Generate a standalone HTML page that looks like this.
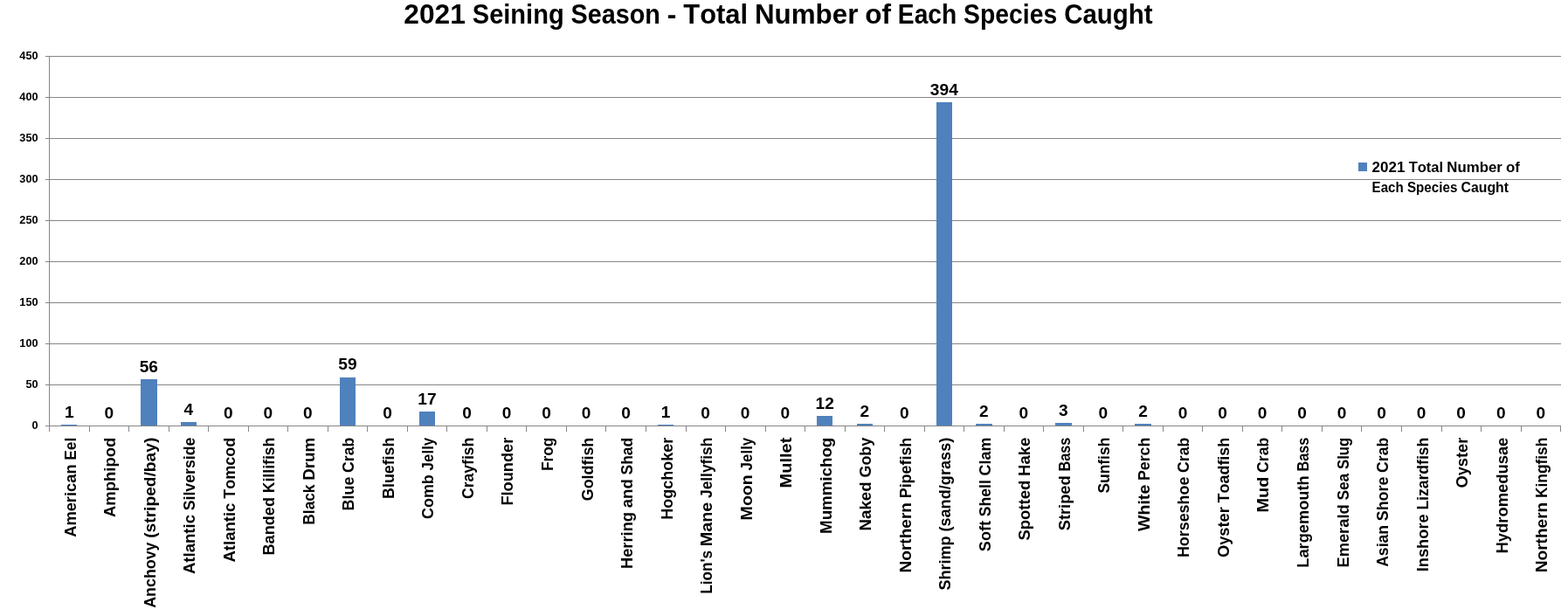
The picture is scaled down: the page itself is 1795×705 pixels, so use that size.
<!DOCTYPE html>
<html lang="en">
<head>
<meta charset="utf-8">
<title>2021 Seining Season - Total Number of Each Species Caught</title>
<style>
html,body{margin:0;padding:0;background:#fff;}
body{width:1795px;height:705px;overflow:hidden;}
svg{display:block;}
text{font-family:"Liberation Sans", sans-serif;font-weight:bold;fill:#000;font-variant-ligatures:none;font-kerning:none;}
.grid line{stroke:#868686;stroke-width:1;shape-rendering:crispEdges;}
.bars rect{fill:#4f81bd;shape-rendering:crispEdges;}
</style>
</head>
<body>
<svg width="1795" height="705" viewBox="0 0 1795 705" role="img" aria-label="Bar chart: 2021 Seining Season - Total Number of Each Species Caught">
<rect x="0" y="0" width="1795" height="705" fill="#fff"/>
<g class="grid">
<line x1="52" y1="487.5" x2="1787" y2="487.5"/>
<line x1="52" y1="440.5" x2="1787" y2="440.5"/>
<line x1="52" y1="393.5" x2="1787" y2="393.5"/>
<line x1="52" y1="346.5" x2="1787" y2="346.5"/>
<line x1="52" y1="299.5" x2="1787" y2="299.5"/>
<line x1="52" y1="252.5" x2="1787" y2="252.5"/>
<line x1="52" y1="205.5" x2="1787" y2="205.5"/>
<line x1="52" y1="158.5" x2="1787" y2="158.5"/>
<line x1="52" y1="111.5" x2="1787" y2="111.5"/>
<line x1="52" y1="64.5" x2="1787" y2="64.5"/>
<line x1="56.5" y1="64" x2="56.5" y2="494"/>
<line x1="102.5" y1="487" x2="102.5" y2="494"/>
<line x1="147.5" y1="487" x2="147.5" y2="494"/>
<line x1="193.5" y1="487" x2="193.5" y2="494"/>
<line x1="238.5" y1="487" x2="238.5" y2="494"/>
<line x1="284.5" y1="487" x2="284.5" y2="494"/>
<line x1="329.5" y1="487" x2="329.5" y2="494"/>
<line x1="375.5" y1="487" x2="375.5" y2="494"/>
<line x1="420.5" y1="487" x2="420.5" y2="494"/>
<line x1="466.5" y1="487" x2="466.5" y2="494"/>
<line x1="511.5" y1="487" x2="511.5" y2="494"/>
<line x1="557.5" y1="487" x2="557.5" y2="494"/>
<line x1="602.5" y1="487" x2="602.5" y2="494"/>
<line x1="648.5" y1="487" x2="648.5" y2="494"/>
<line x1="693.5" y1="487" x2="693.5" y2="494"/>
<line x1="739.5" y1="487" x2="739.5" y2="494"/>
<line x1="785.5" y1="487" x2="785.5" y2="494"/>
<line x1="830.5" y1="487" x2="830.5" y2="494"/>
<line x1="876.5" y1="487" x2="876.5" y2="494"/>
<line x1="921.5" y1="487" x2="921.5" y2="494"/>
<line x1="967.5" y1="487" x2="967.5" y2="494"/>
<line x1="1012.5" y1="487" x2="1012.5" y2="494"/>
<line x1="1058.5" y1="487" x2="1058.5" y2="494"/>
<line x1="1103.5" y1="487" x2="1103.5" y2="494"/>
<line x1="1149.5" y1="487" x2="1149.5" y2="494"/>
<line x1="1194.5" y1="487" x2="1194.5" y2="494"/>
<line x1="1240.5" y1="487" x2="1240.5" y2="494"/>
<line x1="1285.5" y1="487" x2="1285.5" y2="494"/>
<line x1="1331.5" y1="487" x2="1331.5" y2="494"/>
<line x1="1376.5" y1="487" x2="1376.5" y2="494"/>
<line x1="1422.5" y1="487" x2="1422.5" y2="494"/>
<line x1="1467.5" y1="487" x2="1467.5" y2="494"/>
<line x1="1513.5" y1="487" x2="1513.5" y2="494"/>
<line x1="1558.5" y1="487" x2="1558.5" y2="494"/>
<line x1="1604.5" y1="487" x2="1604.5" y2="494"/>
<line x1="1650.5" y1="487" x2="1650.5" y2="494"/>
<line x1="1695.5" y1="487" x2="1695.5" y2="494"/>
<line x1="1741.5" y1="487" x2="1741.5" y2="494"/>
<line x1="1786.5" y1="487" x2="1786.5" y2="494"/>
</g>
<g class="bars">
<rect x="70" y="486" width="18" height="1"/>
<rect x="161" y="434" width="19" height="53"/>
<rect x="207" y="483" width="18" height="4"/>
<rect x="389" y="432" width="18" height="55"/>
<rect x="480" y="471" width="18" height="16"/>
<rect x="753" y="486" width="18" height="1"/>
<rect x="935" y="476" width="18" height="11"/>
<rect x="981" y="485" width="18" height="2"/>
<rect x="1072" y="117" width="18" height="370"/>
<rect x="1117" y="485" width="19" height="2"/>
<rect x="1208" y="484" width="19" height="3"/>
<rect x="1299" y="485" width="19" height="2"/>
</g>
<g class="ylab">
<text font-size="12.9" x="36.5" y="491" textLength="7.1" lengthAdjust="spacingAndGlyphs">0</text>
<text font-size="12.9" x="29.41" y="444" textLength="14.19" lengthAdjust="spacingAndGlyphs">50</text>
<text font-size="12.9" x="22.31" y="397" textLength="21.29" lengthAdjust="spacingAndGlyphs">100</text>
<text font-size="12.9" x="22.31" y="350" textLength="21.29" lengthAdjust="spacingAndGlyphs">150</text>
<text font-size="12.9" x="22.31" y="303" textLength="21.29" lengthAdjust="spacingAndGlyphs">200</text>
<text font-size="12.9" x="22.31" y="256" textLength="21.29" lengthAdjust="spacingAndGlyphs">250</text>
<text font-size="12.9" x="22.31" y="209" textLength="21.29" lengthAdjust="spacingAndGlyphs">300</text>
<text font-size="12.9" x="22.31" y="162" textLength="21.29" lengthAdjust="spacingAndGlyphs">350</text>
<text font-size="12.9" x="22.31" y="115" textLength="21.29" lengthAdjust="spacingAndGlyphs">400</text>
<text font-size="12.9" x="22.31" y="68" textLength="21.29" lengthAdjust="spacingAndGlyphs">450</text>
</g>
<g class="dlab">
<text font-size="17.6" x="73.94" y="478" textLength="10.64" lengthAdjust="spacingAndGlyphs">1</text>
<text font-size="17.6" x="119.47" y="479" textLength="10.64" lengthAdjust="spacingAndGlyphs">0</text>
<text font-size="17.6" x="159.67" y="426" textLength="21.29" lengthAdjust="spacingAndGlyphs">56</text>
<text font-size="17.6" x="210.52" y="475" textLength="10.64" lengthAdjust="spacingAndGlyphs">4</text>
<text font-size="17.6" x="256.05" y="479" textLength="10.64" lengthAdjust="spacingAndGlyphs">0</text>
<text font-size="17.6" x="301.57" y="479" textLength="10.64" lengthAdjust="spacingAndGlyphs">0</text>
<text font-size="17.6" x="347.1" y="479" textLength="10.64" lengthAdjust="spacingAndGlyphs">0</text>
<text font-size="17.6" x="387.31" y="423" textLength="21.29" lengthAdjust="spacingAndGlyphs">59</text>
<text font-size="17.6" x="438.15" y="479" textLength="10.64" lengthAdjust="spacingAndGlyphs">0</text>
<text font-size="17.6" x="478.36" y="463" textLength="21.29" lengthAdjust="spacingAndGlyphs">17</text>
<text font-size="17.6" x="529.21" y="479" textLength="10.64" lengthAdjust="spacingAndGlyphs">0</text>
<text font-size="17.6" x="574.73" y="479" textLength="10.64" lengthAdjust="spacingAndGlyphs">0</text>
<text font-size="17.6" x="620.26" y="479" textLength="10.64" lengthAdjust="spacingAndGlyphs">0</text>
<text font-size="17.6" x="665.79" y="479" textLength="10.64" lengthAdjust="spacingAndGlyphs">0</text>
<text font-size="17.6" x="711.31" y="479" textLength="10.64" lengthAdjust="spacingAndGlyphs">0</text>
<text font-size="17.6" x="756.84" y="478" textLength="10.64" lengthAdjust="spacingAndGlyphs">1</text>
<text font-size="17.6" x="802.37" y="479" textLength="10.64" lengthAdjust="spacingAndGlyphs">0</text>
<text font-size="17.6" x="847.89" y="479" textLength="10.64" lengthAdjust="spacingAndGlyphs">0</text>
<text font-size="17.6" x="893.42" y="479" textLength="10.64" lengthAdjust="spacingAndGlyphs">0</text>
<text font-size="17.6" x="933.62" y="468" textLength="21.29" lengthAdjust="spacingAndGlyphs">12</text>
<text font-size="17.6" x="984.47" y="477" textLength="10.64" lengthAdjust="spacingAndGlyphs">2</text>
<text font-size="17.6" x="1030" y="479" textLength="10.64" lengthAdjust="spacingAndGlyphs">0</text>
<text font-size="17.6" x="1064.88" y="109" textLength="31.93" lengthAdjust="spacingAndGlyphs">394</text>
<text font-size="17.6" x="1121.05" y="477" textLength="10.64" lengthAdjust="spacingAndGlyphs">2</text>
<text font-size="17.6" x="1166.58" y="479" textLength="10.64" lengthAdjust="spacingAndGlyphs">0</text>
<text font-size="17.6" x="1212.1" y="476" textLength="10.64" lengthAdjust="spacingAndGlyphs">3</text>
<text font-size="17.6" x="1257.63" y="479" textLength="10.64" lengthAdjust="spacingAndGlyphs">0</text>
<text font-size="17.6" x="1303.16" y="477" textLength="10.64" lengthAdjust="spacingAndGlyphs">2</text>
<text font-size="17.6" x="1348.68" y="479" textLength="10.64" lengthAdjust="spacingAndGlyphs">0</text>
<text font-size="17.6" x="1394.21" y="479" textLength="10.64" lengthAdjust="spacingAndGlyphs">0</text>
<text font-size="17.6" x="1439.74" y="479" textLength="10.64" lengthAdjust="spacingAndGlyphs">0</text>
<text font-size="17.6" x="1485.26" y="479" textLength="10.64" lengthAdjust="spacingAndGlyphs">0</text>
<text font-size="17.6" x="1530.79" y="479" textLength="10.64" lengthAdjust="spacingAndGlyphs">0</text>
<text font-size="17.6" x="1576.32" y="479" textLength="10.64" lengthAdjust="spacingAndGlyphs">0</text>
<text font-size="17.6" x="1621.84" y="479" textLength="10.64" lengthAdjust="spacingAndGlyphs">0</text>
<text font-size="17.6" x="1667.37" y="479" textLength="10.64" lengthAdjust="spacingAndGlyphs">0</text>
<text font-size="17.6" x="1712.9" y="479" textLength="10.64" lengthAdjust="spacingAndGlyphs">0</text>
<text font-size="17.6" x="1758.42" y="479" textLength="10.64" lengthAdjust="spacingAndGlyphs">0</text>
</g>
<g class="clab">
<text transform="translate(86.66 500.7) rotate(-90)" font-size="17.6" y="0"><tspan x="-114.15" textLength="83.43" lengthAdjust="spacingAndGlyphs">American</tspan> <tspan x="-25.97" textLength="25.97" lengthAdjust="spacingAndGlyphs">Eel</tspan></text>
<text transform="translate(132.19 500.7) rotate(-90)" font-size="17.6" x="-91.33" y="0" textLength="91.33" lengthAdjust="spacingAndGlyphs">Amphipod</text>
<text transform="translate(177.72 500.7) rotate(-90)" font-size="17.6" y="0"><tspan x="-195.05" textLength="75.22" lengthAdjust="spacingAndGlyphs">Anchovy</tspan> <tspan x="-115.08" textLength="115.08" lengthAdjust="spacingAndGlyphs">(striped/bay)</tspan></text>
<text transform="translate(223.24 500.7) rotate(-90)" font-size="17.6" y="0"><tspan x="-156.36" textLength="68.02" lengthAdjust="spacingAndGlyphs">Atlantic</tspan> <tspan x="-83.59" textLength="83.59" lengthAdjust="spacingAndGlyphs">Silverside</tspan></text>
<text transform="translate(268.77 500.7) rotate(-90)" font-size="17.6" y="0"><tspan x="-142.89" textLength="68.02" lengthAdjust="spacingAndGlyphs">Atlantic</tspan> <tspan x="-70.12" textLength="70.12" lengthAdjust="spacingAndGlyphs">Tomcod</tspan></text>
<text transform="translate(314.3 500.7) rotate(-90)" font-size="17.6" y="0"><tspan x="-134.83" textLength="66.52" lengthAdjust="spacingAndGlyphs">Banded</tspan> <tspan x="-63.56" textLength="63.56" lengthAdjust="spacingAndGlyphs">Killifish</tspan></text>
<text transform="translate(359.82 500.7) rotate(-90)" font-size="17.6" y="0"><tspan x="-99.97" textLength="46.16" lengthAdjust="spacingAndGlyphs">Black</tspan> <tspan x="-49.05" textLength="49.05" lengthAdjust="spacingAndGlyphs">Drum</tspan></text>
<text transform="translate(405.35 500.7) rotate(-90)" font-size="17.6" y="0"><tspan x="-83.73" textLength="38.77" lengthAdjust="spacingAndGlyphs">Blue</tspan> <tspan x="-40.22" textLength="40.22" lengthAdjust="spacingAndGlyphs">Crab</tspan></text>
<text transform="translate(450.88 500.7) rotate(-90)" font-size="17.6" x="-70.22" y="0" textLength="70.22" lengthAdjust="spacingAndGlyphs">Bluefish</text>
<text transform="translate(496.4 500.7) rotate(-90)" font-size="17.6" y="0"><tspan x="-93.29" textLength="50.76" lengthAdjust="spacingAndGlyphs">Comb</tspan> <tspan x="-37.79" textLength="37.79" lengthAdjust="spacingAndGlyphs">Jelly</tspan></text>
<text transform="translate(541.93 500.7) rotate(-90)" font-size="17.6" x="-70.34" y="0" textLength="70.34" lengthAdjust="spacingAndGlyphs">Crayfish</text>
<text transform="translate(587.45 500.7) rotate(-90)" font-size="17.6" x="-77.93" y="0" textLength="77.93" lengthAdjust="spacingAndGlyphs">Flounder</text>
<text transform="translate(632.98 500.7) rotate(-90)" font-size="17.6" x="-38.35" y="0" textLength="38.35" lengthAdjust="spacingAndGlyphs">Frog</text>
<text transform="translate(678.51 500.7) rotate(-90)" font-size="17.6" x="-72.55" y="0" textLength="72.55" lengthAdjust="spacingAndGlyphs">Goldfish</text>
<text transform="translate(724.03 500.7) rotate(-90)" font-size="17.6" y="0"><tspan x="-150.36" textLength="65.13" lengthAdjust="spacingAndGlyphs">Herring</tspan> <tspan x="-80.48" textLength="32.9" lengthAdjust="spacingAndGlyphs">and</tspan> <tspan x="-42.83" textLength="42.83" lengthAdjust="spacingAndGlyphs">Shad</tspan></text>
<text transform="translate(769.56 500.7) rotate(-90)" font-size="17.6" x="-93.96" y="0" textLength="93.96" lengthAdjust="spacingAndGlyphs">Hogchoker</text>
<text transform="translate(815.09 500.7) rotate(-90)" font-size="17.6" y="0"><tspan x="-179.17" textLength="49.88" lengthAdjust="spacingAndGlyphs">Lion&#39;s</tspan> <tspan x="-124.54" textLength="50.56" lengthAdjust="spacingAndGlyphs">Mane</tspan> <tspan x="-69.23" textLength="69.23" lengthAdjust="spacingAndGlyphs">Jellyfish</tspan></text>
<text transform="translate(860.61 500.7) rotate(-90)" font-size="17.6" y="0"><tspan x="-94.74" textLength="52.2" lengthAdjust="spacingAndGlyphs">Moon</tspan> <tspan x="-37.79" textLength="37.79" lengthAdjust="spacingAndGlyphs">Jelly</tspan></text>
<text transform="translate(906.14 500.7) rotate(-90)" font-size="17.6" x="-57.79" y="0" textLength="57.79" lengthAdjust="spacingAndGlyphs">Mullet</text>
<text transform="translate(951.67 500.7) rotate(-90)" font-size="17.6" x="-110.25" y="0" textLength="110.25" lengthAdjust="spacingAndGlyphs">Mummichog</text>
<text transform="translate(997.19 500.7) rotate(-90)" font-size="17.6" y="0"><tspan x="-106.75" textLength="56.12" lengthAdjust="spacingAndGlyphs">Naked</tspan> <tspan x="-45.89" textLength="45.89" lengthAdjust="spacingAndGlyphs">Goby</tspan></text>
<text transform="translate(1042.72 500.7) rotate(-90)" font-size="17.6" y="0"><tspan x="-154.81" textLength="80.44" lengthAdjust="spacingAndGlyphs">Northern</tspan> <tspan x="-69.62" textLength="69.62" lengthAdjust="spacingAndGlyphs">Pipefish</tspan></text>
<text transform="translate(1088.25 500.7) rotate(-90)" font-size="17.6" y="0"><tspan x="-174.85" textLength="62.17" lengthAdjust="spacingAndGlyphs">Shrimp</tspan> <tspan x="-107.93" textLength="107.93" lengthAdjust="spacingAndGlyphs">(sand/grass)</tspan></text>
<text transform="translate(1133.77 500.7) rotate(-90)" font-size="17.6" y="0"><tspan x="-130.44" textLength="35.14" lengthAdjust="spacingAndGlyphs">Soft</tspan> <tspan x="-90.55" textLength="42.08" lengthAdjust="spacingAndGlyphs">Shell</tspan> <tspan x="-43.72" textLength="43.72" lengthAdjust="spacingAndGlyphs">Clam</tspan></text>
<text transform="translate(1179.3 500.7) rotate(-90)" font-size="17.6" y="0"><tspan x="-117.9" textLength="68.89" lengthAdjust="spacingAndGlyphs">Spotted</tspan> <tspan x="-44.27" textLength="44.27" lengthAdjust="spacingAndGlyphs">Hake</tspan></text>
<text transform="translate(1224.83 500.7) rotate(-90)" font-size="17.6" y="0"><tspan x="-106.58" textLength="62.94" lengthAdjust="spacingAndGlyphs">Striped</tspan> <tspan x="-38.89" textLength="38.89" lengthAdjust="spacingAndGlyphs">Bass</tspan></text>
<text transform="translate(1270.35 500.7) rotate(-90)" font-size="17.6" x="-63.91" y="0" textLength="63.91" lengthAdjust="spacingAndGlyphs">Sunfish</text>
<text transform="translate(1315.88 500.7) rotate(-90)" font-size="17.6" y="0"><tspan x="-107.33" textLength="53.31" lengthAdjust="spacingAndGlyphs">White</tspan> <tspan x="-49.27" textLength="49.27" lengthAdjust="spacingAndGlyphs">Perch</tspan></text>
<text transform="translate(1361.41 500.7) rotate(-90)" font-size="17.6" y="0"><tspan x="-137.42" textLength="92.46" lengthAdjust="spacingAndGlyphs">Horseshoe</tspan> <tspan x="-40.22" textLength="40.22" lengthAdjust="spacingAndGlyphs">Crab</tspan></text>
<text transform="translate(1406.93 500.7) rotate(-90)" font-size="17.6" y="0"><tspan x="-137.36" textLength="57.84" lengthAdjust="spacingAndGlyphs">Oyster</tspan> <tspan x="-74.77" textLength="74.77" lengthAdjust="spacingAndGlyphs">Toadfish</tspan></text>
<text transform="translate(1452.46 500.7) rotate(-90)" font-size="17.6" y="0"><tspan x="-85.86" textLength="40.89" lengthAdjust="spacingAndGlyphs">Mud</tspan> <tspan x="-40.22" textLength="40.22" lengthAdjust="spacingAndGlyphs">Crab</tspan></text>
<text transform="translate(1497.98 500.7) rotate(-90)" font-size="17.6" y="0"><tspan x="-149.07" textLength="105.43" lengthAdjust="spacingAndGlyphs">Largemouth</tspan> <tspan x="-38.89" textLength="38.89" lengthAdjust="spacingAndGlyphs">Bass</tspan></text>
<text transform="translate(1543.51 500.7) rotate(-90)" font-size="17.6" y="0"><tspan x="-148.83" textLength="72.16" lengthAdjust="spacingAndGlyphs">Emerald</tspan> <tspan x="-71.92" textLength="30.86" lengthAdjust="spacingAndGlyphs">Sea</tspan> <tspan x="-36.31" textLength="36.31" lengthAdjust="spacingAndGlyphs">Slug</tspan></text>
<text transform="translate(1589.04 500.7) rotate(-90)" font-size="17.6" y="0"><tspan x="-148.13" textLength="47.9" lengthAdjust="spacingAndGlyphs">Asian</tspan> <tspan x="-95.48" textLength="50.52" lengthAdjust="spacingAndGlyphs">Shore</tspan> <tspan x="-40.22" textLength="40.22" lengthAdjust="spacingAndGlyphs">Crab</tspan></text>
<text transform="translate(1634.56 500.7) rotate(-90)" font-size="17.6" y="0"><tspan x="-153.52" textLength="65.84" lengthAdjust="spacingAndGlyphs">Inshore</tspan> <tspan x="-82.93" textLength="82.93" lengthAdjust="spacingAndGlyphs">Lizardfish</tspan></text>
<text transform="translate(1680.09 500.7) rotate(-90)" font-size="17.6" x="-57.84" y="0" textLength="57.84" lengthAdjust="spacingAndGlyphs">Oyster</text>
<text transform="translate(1725.62 500.7) rotate(-90)" font-size="17.6" x="-132.73" y="0" textLength="132.73" lengthAdjust="spacingAndGlyphs">Hydromedusae</text>
<text transform="translate(1771.14 500.7) rotate(-90)" font-size="17.6" y="0"><tspan x="-154.51" textLength="80.44" lengthAdjust="spacingAndGlyphs">Northern</tspan> <tspan x="-69.32" textLength="69.32" lengthAdjust="spacingAndGlyphs">Kingfish</tspan></text>
</g>
<g class="legend">
<rect x="1555" y="186" width="10" height="10" fill="#4f81bd" shape-rendering="crispEdges"/>
<text font-size="17.4" y="197"><tspan x="1570.6" textLength="37.81" lengthAdjust="spacingAndGlyphs">2021</tspan> <tspan x="1612.63" textLength="39.51" lengthAdjust="spacingAndGlyphs">Total</tspan> <tspan x="1656.36" textLength="63.49" lengthAdjust="spacingAndGlyphs">Number</tspan> <tspan x="1724.06" textLength="15.93" lengthAdjust="spacingAndGlyphs">of</tspan></text>
<text font-size="17.4" y="220"><tspan x="1570.6" textLength="36.12" lengthAdjust="spacingAndGlyphs">Each</tspan> <tspan x="1610.93" textLength="57.43" lengthAdjust="spacingAndGlyphs">Species</tspan> <tspan x="1672.57" textLength="54.4" lengthAdjust="spacingAndGlyphs">Caught</tspan></text>
</g>
<text font-size="32" class="title" y="26.6"><tspan x="462.35" textLength="70.55" lengthAdjust="spacingAndGlyphs">2021</tspan> <tspan x="540.77" textLength="104.91" lengthAdjust="spacingAndGlyphs">Seining</tspan> <tspan x="653.54" textLength="102.41" lengthAdjust="spacingAndGlyphs">Season</tspan> <tspan x="763.82" textLength="10.65" lengthAdjust="spacingAndGlyphs">-</tspan> <tspan x="782.34" textLength="73.73" lengthAdjust="spacingAndGlyphs">Total</tspan> <tspan x="863.94" textLength="118.47" lengthAdjust="spacingAndGlyphs">Number</tspan> <tspan x="990.28" textLength="29.72" lengthAdjust="spacingAndGlyphs">of</tspan> <tspan x="1027.86" textLength="67.39" lengthAdjust="spacingAndGlyphs">Each</tspan> <tspan x="1103.12" textLength="107.15" lengthAdjust="spacingAndGlyphs">Species</tspan> <tspan x="1218.14" textLength="101.51" lengthAdjust="spacingAndGlyphs">Caught</tspan></text>
</svg>
</body>
</html>
